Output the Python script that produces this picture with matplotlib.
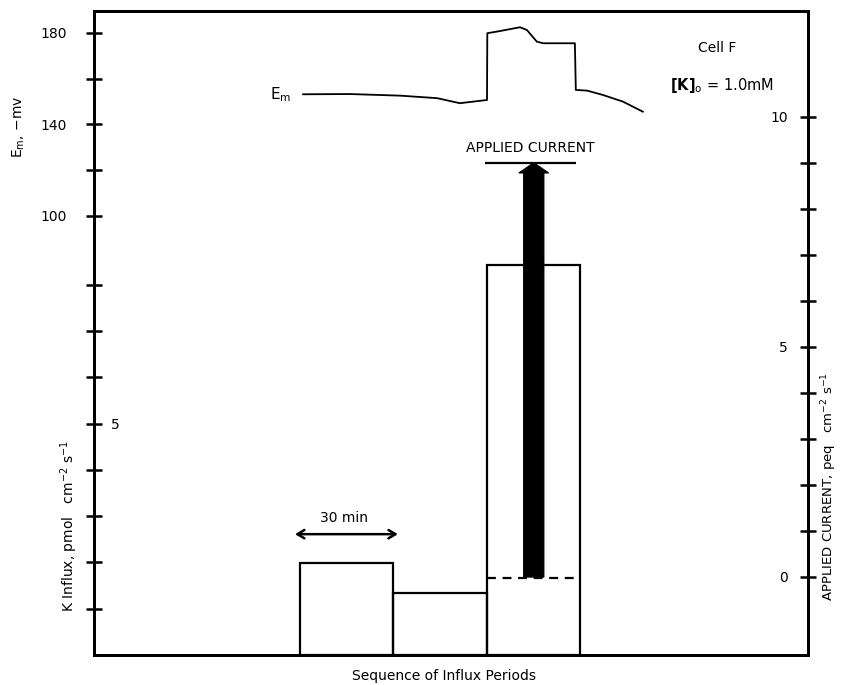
import matplotlib
matplotlib.use("Agg")
import matplotlib.pyplot as plt

plt.rcParams['font.family'] = ['DejaVu Sans']

# Influx periods (minutes from start of first period) and K influx per period
period_start = [0, 30, 60]
period_len = 30
k_influx = [1.99, 1.34, 8.42]          # pmol cm-2 s-1
passive_level = 1.67                   # dashed estimate inside the third period

# Applied current during the third period
current_time = 75
current_value = 9                      # peq cm-2 s-1

# Membrane potential trace (time in minutes, -mV)
em_time = [1.0, 16.0, 32.1, 44.0, 51.3, 60.0, 60.1, 63.2, 70.6, 72.8, 76.0,
           78.0, 88.2, 88.5, 92.1, 97.2, 103.6, 110.0]
em_mv = [153.2, 153.3, 152.6, 151.5, 149.3, 150.7, 179.9, 180.6, 182.5, 181.3,
         176.2, 175.5, 175.5, 155.1, 154.8, 152.9, 150.0, 145.6]

em_ticks = [100, 120, 140, 160, 180]
em_labels = ['100', '', '140', '', '180']
k_ticks = [1, 2, 3, 4, 5, 6, 7, 8]
k_labels = ['', '', '', '', '5', '', '', '']
cur_ticks = list(range(0, 11))
cur_labels = ['0', '', '', '', '', '5', '', '', '', '', '10']

W, H = 843, 685
fig = plt.figure(figsize=(W / 100, H / 100), dpi=100)
ax = fig.add_axes([94 / W, 1 - 655 / H, (808 - 94) / W, (655 - 11) / H])
ax_em = ax.twinx()
ax_cur = ax.twinx()

lw = 1.6
ax.set_xlim(-66.1, 163.0)
ax.set_ylim(0, 13.91)
ax_em.set_ylim(-91.9, 189.6)
ax_cur.set_ylim(-1.696, 12.30)

for a in (ax, ax_em, ax_cur):
    for s in a.spines.values():
        s.set_linewidth(2.0)
    a.set_xticks([])

tick_kw = dict(direction='inout', length=11, width=1.8, labelsize=10)

# K influx scale: ticks on the left spine, label drawn inside the frame
ax.set_yticks(k_ticks)
ax.set_yticklabels(k_labels)
ax.tick_params(axis='y', **tick_kw, pad=-18)
for t in ax.get_yticklabels():
    t.set_horizontalalignment('left')

# Membrane potential scale: also on the left spine, labels outside
ax_em.yaxis.tick_left()
ax_em.set_yticks(em_ticks)
ax_em.set_yticklabels(em_labels)
ax_em.tick_params(axis='y', **tick_kw, pad=14)

# Applied current scale: right spine, labels inside the frame
ax_cur.yaxis.tick_right()
ax_cur.set_yticks(cur_ticks)
ax_cur.set_yticklabels(cur_labels)
ax_cur.tick_params(axis='y', **tick_kw, pad=-20)
for t in ax_cur.get_yticklabels():
    t.set_horizontalalignment('right')

# Influx bars
ax.bar([s + period_len / 2 for s in period_start], k_influx, width=period_len,
       fill=False, edgecolor='black', linewidth=lw)
ax.hlines(passive_level, period_start[2], period_start[2] + period_len,
          colors='black', linestyles=(0, (4, 3)), linewidth=lw)

# Applied current arrow
ax_cur.annotate('', xy=(current_time, current_value), xytext=(current_time, 0),
                arrowprops=dict(arrowstyle='simple,head_length=0.5,head_width=1.45,tail_width=1.0',
                                mutation_scale=14.4, color='black', shrinkA=0, shrinkB=0))
ax_cur.hlines(current_value, 59.4, 88.5, colors='black', linewidth=lw)
ax_cur.text(74.0, current_value + 0.17, 'APPLIED CURRENT', ha='center', va='bottom',
            fontsize=10)

# Membrane potential trace
ax_em.plot(em_time, em_mv, color='black', linewidth=1.3)
ax_em.text(-2.8, 153.0, 'E$_\\mathrm{m}$', ha='right', va='center', fontsize=11)

# 30 min scale arrow
ax.annotate('', xy=(-1.6, 2.61), xytext=(31.4, 2.61),
            arrowprops=dict(arrowstyle='<->,head_length=0.5,head_width=0.3', lw=1.8,
                            color='black', shrinkA=0, shrinkB=0))
ax.text(14.0, 2.95, '30 min', ha='center', va='center', fontsize=10)

# Cell annotations
ax.text(133.8, 13.11, 'Cell F', ha='center', va='center', fontsize=10)
ax.text(135.4, 12.31, '$\\mathbf{[K]}_{\\mathrm{o}}$ = 1.0mM', ha='center', va='center',
        fontsize=10.5)

# Axis titles
ax.set_xlabel('Sequence of Influx Periods', fontsize=10)
ax.xaxis.set_label_coords(0.49, -0.022)
ax_em.set_ylabel('E$_\\mathrm{m}$, \u2212mv', fontsize=10)
ax_em.yaxis.set_label_position('left')
ax_em.yaxis.set_label_coords(-0.094, 0.82)
ax.set_ylabel('K Influx, pmol   cm$^{-2}$ s$^{-1}$', fontsize=10)
ax.yaxis.set_label_coords(-0.019, 0.20)
ax_cur.set_ylabel('APPLIED CURRENT, peq   cm$^{-2}$ s$^{-1}$', fontsize=9.5, rotation=90)
ax_cur.yaxis.set_label_position('right')
ax_cur.yaxis.set_label_coords(1.016, 0.262)

fig.savefig('out.png', dpi=100)
